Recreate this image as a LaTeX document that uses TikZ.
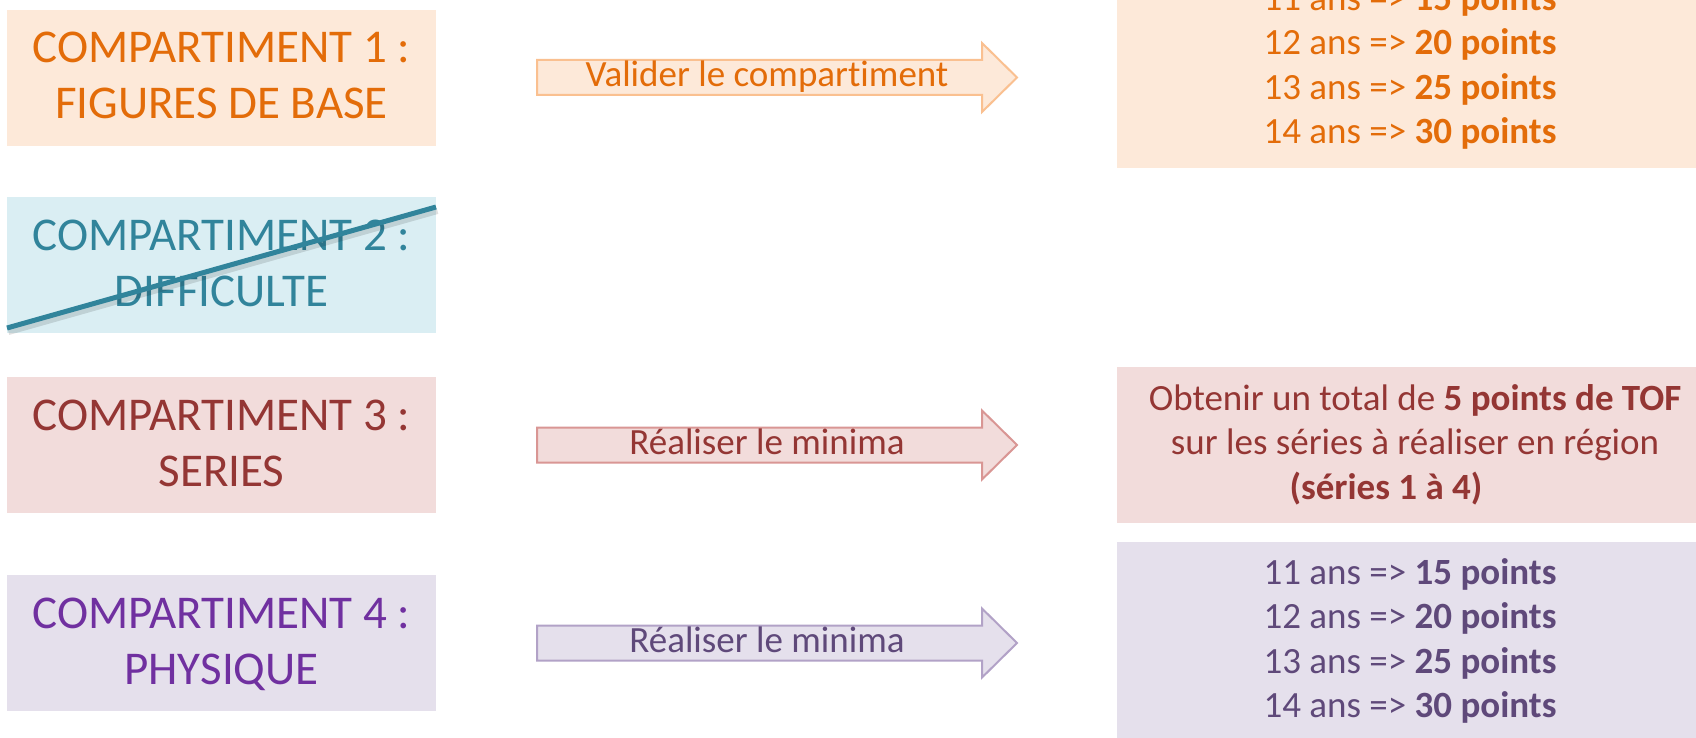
\documentclass[tikz,border=0pt]{standalone}
\usepackage{fontspec}
\setmainfont{Carlito}[Ligatures=NoCommon]
\definecolor{orfill}{HTML}{FDE9D9}
\definecolor{ortext}{HTML}{E36C09}
\definecolor{orline}{HTML}{FAC090}
\definecolor{blfill}{HTML}{DAEEF3}
\definecolor{bltext}{HTML}{31849B}
\definecolor{rdfill}{HTML}{F2DCDB}
\definecolor{rdtext}{HTML}{943634}
\definecolor{rdline}{HTML}{D99694}
\definecolor{pufill}{HTML}{E5E0EC}
\definecolor{putext}{HTML}{7030A0}
\definecolor{pudark}{HTML}{5F497A}
\definecolor{puline}{HTML}{B2A2C7}
\newcommand\stackc[1]{\vtop{\halign{\hfil##\hfil\cr#1\crcr}}}
\begin{document}
\begin{tikzpicture}[x=1pt,y=-1pt,
  lbox/.style={draw=none,inner sep=0pt,minimum width=429pt,minimum height=136pt},
  bigtxt/.style={inner sep=0pt,anchor=base,font=\fontsize{47}{56}\selectfont},
  smalltxt/.style={inner sep=0pt,anchor=base,font=\fontsize{37}{44.5}\selectfont},
  arrowshape/.style={line width=2pt,line join=miter}]
\useasboundingbox (0,0) rectangle (1696,738);
\fill[white] (0,0) rectangle (1696,738);
\clip (0,0) rectangle (1696,738);
% left boxes
\node[lbox,fill=orfill] (b1) at (221.5,78) {};
\node[lbox,fill=blfill] (b2) at (221.5,265) {};
\node[lbox,fill=rdfill] (b3) at (221.5,445) {};
\node[lbox,fill=pufill] (b4) at (221.5,643) {};
\node[bigtxt,text=ortext] (t1) at (221.5,63) {\stackc{COMPARTIMENT 1 :\cr FIGURES DE BASE}};
\node[bigtxt,text=bltext] (t2) at (221.5,250) {\stackc{COMPARTIMENT 2 :\cr DIFFICULTE}};
\node[bigtxt,text=rdtext] (t3) at (221.5,430) {\stackc{COMPARTIMENT 3 :\cr SERIES}};
\node[bigtxt,text=putext] (t4) at (221.5,628) {\stackc{COMPARTIMENT 4 :\cr PHYSIQUE}};
% strike line
\coordinate (sA) at (7,328);
\coordinate (sB) at (436,207);
\draw[line width=6pt,black,opacity=0.12] ([shift={(1.5,4)}]sA) -- ([shift={(1.5,4)}]sB);
\draw[line width=5pt,bltext] (sA) -- (sB);
% right boxes
\fill[orfill] (1117,-20) rectangle (1710,168);
\fill[rdfill] (1117,367) rectangle (1710,523);
\fill[pufill] (1117,542) rectangle (1710,760);
\node[smalltxt,text=ortext] (r1) at (1410,10.5) {\stackc{11 ans => \textbf{15 points}\cr 12 ans => \textbf{20 points}\cr 13 ans => \textbf{25 points}\cr 14 ans => \textbf{30 points}}};
\node[smalltxt,text=rdtext] (r3) at (1415,410) {\stackc{Obtenir un total de \textbf{5 points de TOF}\cr sur les séries à réaliser en région\cr \textbf{(séries 1 à 4)}\hskip 58pt}};
\node[smalltxt,text=pudark] (r4) at (1410,584) {\stackc{11 ans => \textbf{15 points}\cr 12 ans => \textbf{20 points}\cr 13 ans => \textbf{25 points}\cr 14 ans => \textbf{30 points}}};
% arrows
\foreach \cy/\fc/\lc in {77.5/orfill/orline, 445/rdfill/rdline, 643/pufill/puline}{
  \draw[arrowshape,fill=\fc,draw=\lc] (537,\cy-17.5) -- (982,\cy-17.5) -- (982,\cy-34.5) -- (1017,\cy) -- (982,\cy+34.5) -- (982,\cy+17.5) -- (537,\cy+17.5) -- cycle;
}
\node[smalltxt,text=ortext] (a1) at (767,87) {Valider le compartiment};
\node[smalltxt,text=rdtext] (a3) at (767,454.5) {Réaliser le minima};
\node[smalltxt,text=pudark] (a4) at (767,652.5) {Réaliser le minima};
\end{tikzpicture}
\end{document}
